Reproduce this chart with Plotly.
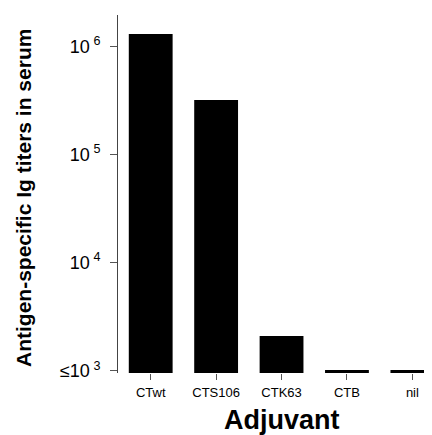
import plotly.graph_objects as go

categories = ["CTwt", "CTS106", "CTK63", "CTB", "nil"]
titers = [1.3e6, 3.2e5, 2.1e3, 1.02e3, 1.02e3]
ytick_vals = [1e3, 1e4, 1e5, 1e6]
ytick_text = ["≤10<sup>\u2009\u200a3</sup>", "10<sup>\u2009\u200a4</sup>",
              "10<sup>\u2009\u200a5</sup>", "10<sup>\u2009\u200a6</sup>"]

OFF = 8  # default page body margin
W, H = 432 - OFF, 435 - OFF
# page-pixel plot box: x 118..432, y 15..373
L, R, T, B = 118 - OFF, 0, 15 - OFF, 435 - 373
pw, ph = W - L - R, H - T - B

def px_to_paper(px, py):
    px -= OFF; py -= OFF
    return (px - L) / pw, 1 - (py - T) / ph

fig = go.Figure(go.Bar(
    x=categories, y=titers, marker=dict(color="black", line=dict(width=0)),
    width=0.67,
))

ytx, yty = px_to_paper(23, 198)
xtx, xty = px_to_paper(282, 420)

fig.update_layout(
    width=W, height=H,
    margin=dict(l=L, r=R, t=T, b=B, autoexpand=False),
    paper_bgcolor="white", plot_bgcolor="white",
    showlegend=False,
    font=dict(family="Liberation Sans, Arial, sans-serif", color="black"),
    xaxis=dict(
        range=[-0.5, 4.3], showline=False, ticks="outside", ticklen=6,
        tickcolor="#555", tickfont=dict(size=13), showgrid=False, zeroline=False,
        automargin=False, ticklabelstandoff=1,
    ),
    yaxis=dict(
        type="log", range=[2.98, 6.29], showline=True, linecolor="#444", linewidth=1,
        ticks="outside", ticklen=7, tickcolor="#555",
        tickvals=ytick_vals, ticktext=ytick_text, tickfont=dict(size=18),
        showgrid=False, zeroline=False, automargin=False, ticklabelstandoff=6,
    ),
    annotations=[
        dict(text="<b>Antigen-specific Ig titers in serum</b>", textangle=-90,
             x=ytx, y=yty, xref="paper", yref="paper", showarrow=False,
             xanchor="center", yanchor="middle",
             font=dict(size=21, family="Liberation Sans, Arial, sans-serif")),
        dict(text="<b>Adjuvant</b>", x=xtx, y=xty, xref="paper", yref="paper",
             showarrow=False, xanchor="center", yanchor="middle",
             font=dict(size=27)),
    ],
)

fig.write_html("out.html")
